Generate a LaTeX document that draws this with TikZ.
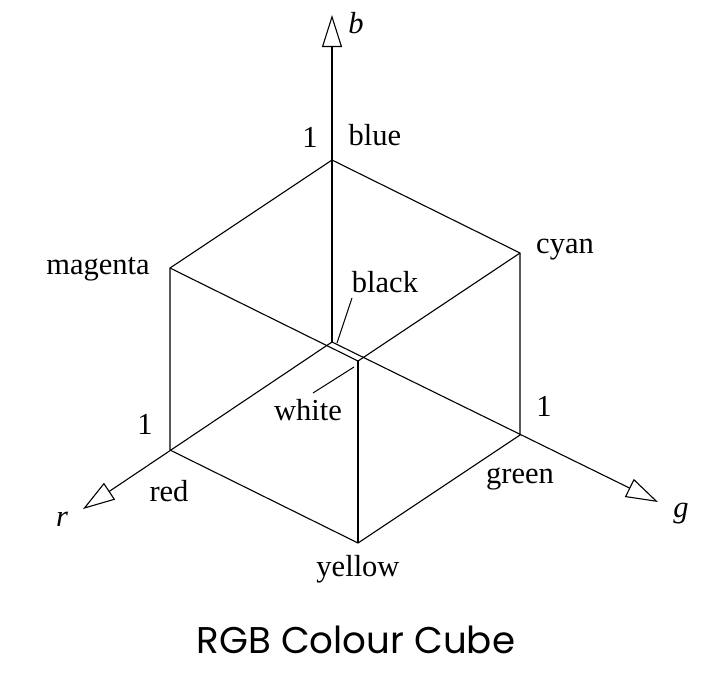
\documentclass[tikz,border=0pt]{standalone}
\usepackage{fontspec}
\setmainfont{Liberation Serif}
\newfontfamily\titlefont{Poppins}
\usetikzlibrary{arrows.meta}
\begin{document}
\begin{tikzpicture}[x=0.5pt,y=-0.5pt,
  edge/.style={line width=0.55pt},
  axis/.style={line width=0.55pt,-{Triangle[open,length=16pt,width=10pt]}},
  lbl/.style={font=\fontsize{15.25}{18}\selectfont, anchor=base, inner sep=0pt},
  ax/.style={font=\fontsize{15.25}{18}\selectfont\itshape, anchor=base, inner sep=0pt},
  leader/.style={line width=0.5pt}]
\useasboundingbox (0,0) rectangle (719,682);
% vertices
\coordinate (K) at (332,342);
\coordinate (B) at (332,160);
\coordinate (R) at (170,450);
\coordinate (G) at (520,435);
\coordinate (M) at (170,268);
\coordinate (C) at (520,253);
\coordinate (W) at (358,361);
\coordinate (Y) at (358,543);
\coordinate (bt) at (332,15);
\coordinate (rt) at (83,509);
\coordinate (gt) at (658,502);
% axes
\draw[axis] (K) -- (bt);
\draw[axis] (K) -- (rt);
\draw[axis] (K) -- (gt);
% cube edges
\draw[edge] (B) -- (M) -- (R) -- (Y) -- (G) -- (C) -- (B);
\draw[edge] (M) -- (W) -- (C);
\draw[edge] (W) -- (Y);
% labels
\node[lbl] (one-b) at (310,147) {1};
\node[lbl] (lblue) at (375,145) {blue};
\node[lbl] (lmag) at (98,274) {magenta};
\node[lbl] (lcyan) at (565,253) {cyan};
\node[lbl] (lblack) at (385,292) {black};
\node[lbl] (lwhite) at (308,420) {white};
\node[lbl] (one-r) at (145,434) {1};
\node[lbl] (one-g) at (544,416) {1};
\node[lbl] (lred) at (169,501) {red};
\node[lbl] (lgreen) at (520,483) {green};
\node[lbl] (lyellow) at (358,576) {yellow};
\node[ax] (lb) at (356,33) {b};
\node[ax] (lr) at (62,526) {r};
\node[ax] (lg) at (681,517) {g};
% leaders
\coordinate (kb1) at (352,298);
\coordinate (kb2) at (337,343);
\coordinate (wh1) at (354,367);
\coordinate (wh2) at (313,393);
\draw[leader] (kb1) -- (kb2);
\draw[leader] (wh1) -- (wh2);
% title
\node[anchor=base, inner sep=0pt, font=\titlefont\fontsize{18.6}{22}\selectfont] (title) at (356,653) {RGB Colour Cube};
\end{tikzpicture}
\end{document}
